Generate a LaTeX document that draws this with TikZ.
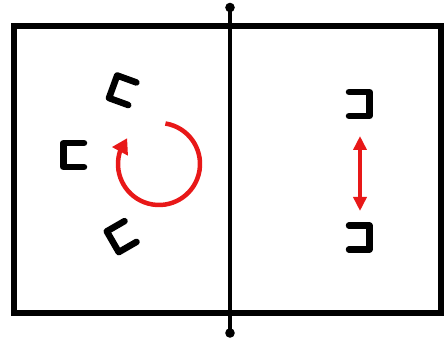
\documentclass[tikz,border=0pt]{standalone}
\usetikzlibrary{arrows.meta,bending}
\definecolor{turnred}{RGB}{232,24,24}
\tikzset{
	bracket/.pic={
		\draw[line width=6.5pt, line cap=round, line join=round] (11, 12) -- (-9.5, 12) -- (-9.5, -12) -- (11, -12);
	},
	redline/.style={turnred, line width=4.5pt}
}
\begin{document}
\begin{tikzpicture}[x=1pt, y=1pt]
	\useasboundingbox (0, 0) rectangle (446, 345);
	% Court
	\draw[line width=6pt] (13.5, 32.5) rectangle (441, 318.5);
	\coordinate (nettop) at (230, 337.5);
	\coordinate (netbottom) at (230, 12);
	\draw[line width=3.5pt] (nettop) -- (netbottom);
	\fill (nettop) circle (4.8);
	\fill (netbottom) circle (4.8);
	
	% Left players
	\pic[rotate=-20] at (122, 255) {bracket};
	\pic at (73, 190) {bracket};
	\pic[rotate=30] at (121, 108) {bracket};
	
	% Right players
	\pic[rotate=180] at (360, 241) {bracket};
	\pic[rotate=180] at (360, 107.5) {bracket};
	
	% Rotation
	\coordinate (rot) at (159, 181);
	\draw[redline, -{Triangle[length=15pt, width=17pt, flex]}] ([shift={(81:41)}]rot) arc (81:-219:41);
	
	% Swap
	\coordinate (swaptop) at (360, 209);
	\coordinate (swapbottom) at (360, 134);
	\draw[turnred, line width=4pt, {Triangle[length=14pt, width=13pt]}-{Triangle[length=14pt, width=13pt]}] (swaptop) -- (swapbottom);
\end{tikzpicture}
\end{document}
